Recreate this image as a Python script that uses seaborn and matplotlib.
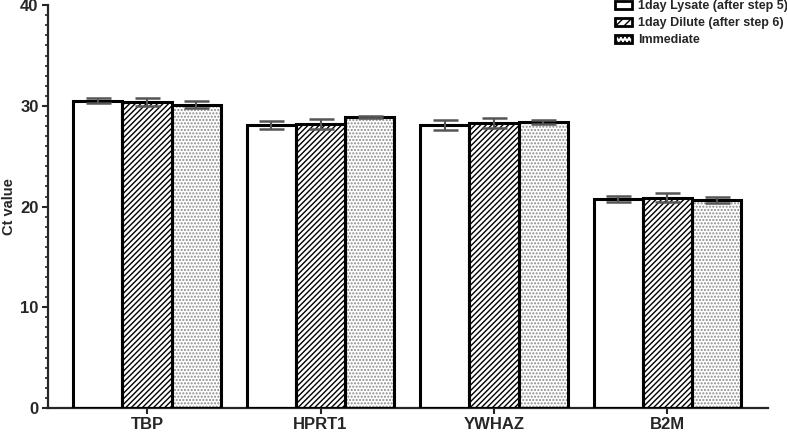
import pandas as pd
import numpy as np
import matplotlib
matplotlib.use("Agg")
import matplotlib.pyplot as plt
import seaborn as sns
from matplotlib.patches import Patch, Rectangle
from matplotlib.ticker import MultipleLocator

# Dados
genes = ["TBP", "HPRT1", "YWHAZ", "B2M"]
conditions = ["1day Lysate (after step 5)", "1day Dilute (after step 6)", "Immediate"]
lysate_mean = [30.5, 28.1, 28.1, 20.8]
lysate_err = [0.25, 0.4, 0.5, 0.3]
dilute_mean = [30.4, 28.2, 28.3, 20.9]
dilute_err = [0.4, 0.5, 0.45, 0.4]
immediate_mean = [30.1, 28.9, 28.4, 20.7]
immediate_err = [0.35, 0.1, 0.2, 0.3]

means = [lysate_mean, dilute_mean, immediate_mean]
errs = [lysate_err, dilute_err, immediate_err]

df = pd.DataFrame({
    "Gene": np.tile(genes, 3),
    "Condition": np.repeat(conditions, 4),
    "Ct": np.concatenate(means),
    "Err": np.concatenate(errs),
})

sns.set_style("ticks")
plt.rcParams["font.family"] = ["Liberation Sans", "DejaVu Sans"]
plt.rcParams["font.weight"] = "bold"
plt.rcParams["hatch.linewidth"] = 1.0

fig = plt.figure(figsize=(7.87, 4.34), dpi=100)
ax = fig.add_axes([0.061, 0.06, 0.915, 0.928])

sns.barplot(data=df, x="Gene", y="Ct", hue="Condition", order=genes,
            hue_order=conditions, errorbar=None, width=0.85, ax=ax,
            palette=["white", "white", "white"], legend=False)

hatches = ["", "//////", "....."]
hatch_cols = ["black", "black", "#8a8a8a"]
# patches ficam ordenados por condição, depois por gene
for i, cond in enumerate(conditions):
    for j, gene in enumerate(genes):
        p = ax.patches[i * len(genes) + j]
        p.set_hatch(hatches[i])
        p.set_edgecolor(hatch_cols[i])
        p.set_linewidth(0)
        x0, w, h = p.get_x(), p.get_width(), p.get_height()
        ax.add_patch(Rectangle((x0, 0), w, h, fill=False, edgecolor="black",
                               linewidth=2.2, zorder=3))
        ax.errorbar(x0 + w / 2, h, yerr=errs[i][j], color="#555555",
                    capsize=9, elinewidth=1.5, capthick=1.8, zorder=4)

ax.set_xlim(-0.571, 3.58)
ax.set_ylim(0, 40)
ax.yaxis.set_major_locator(MultipleLocator(10))
ax.yaxis.set_minor_locator(MultipleLocator(1))
ax.tick_params(axis="both", which="major", width=1.5, length=4.3,
               labelsize=12, pad=2.5)
ax.tick_params(axis="y", which="minor", width=1.2, length=2.2)
for lab in ax.get_xticklabels() + ax.get_yticklabels():
    lab.set_fontweight("bold")
ax.set_xlabel("")
ax.set_ylabel("Ct value", fontsize=10.5, fontweight="bold")
ax.yaxis.set_label_coords(-0.045, 0.5)
sns.despine(ax=ax)
for s in ["left", "bottom"]:
    ax.spines[s].set_linewidth(1.6)

handles = [Patch(facecolor="white", edgecolor="black", hatch=h, linewidth=2)
           for h in ["", "////", "...."]]
fig.legend(handles, conditions, loc="upper right", bbox_to_anchor=(1.016, 1.025),
           frameon=False, prop={"size": 9, "weight": "bold"},
           handlelength=1.4, handleheight=0.55, handletextpad=0.5,
           labelspacing=0.4)

fig.savefig("out.png", dpi=100)
